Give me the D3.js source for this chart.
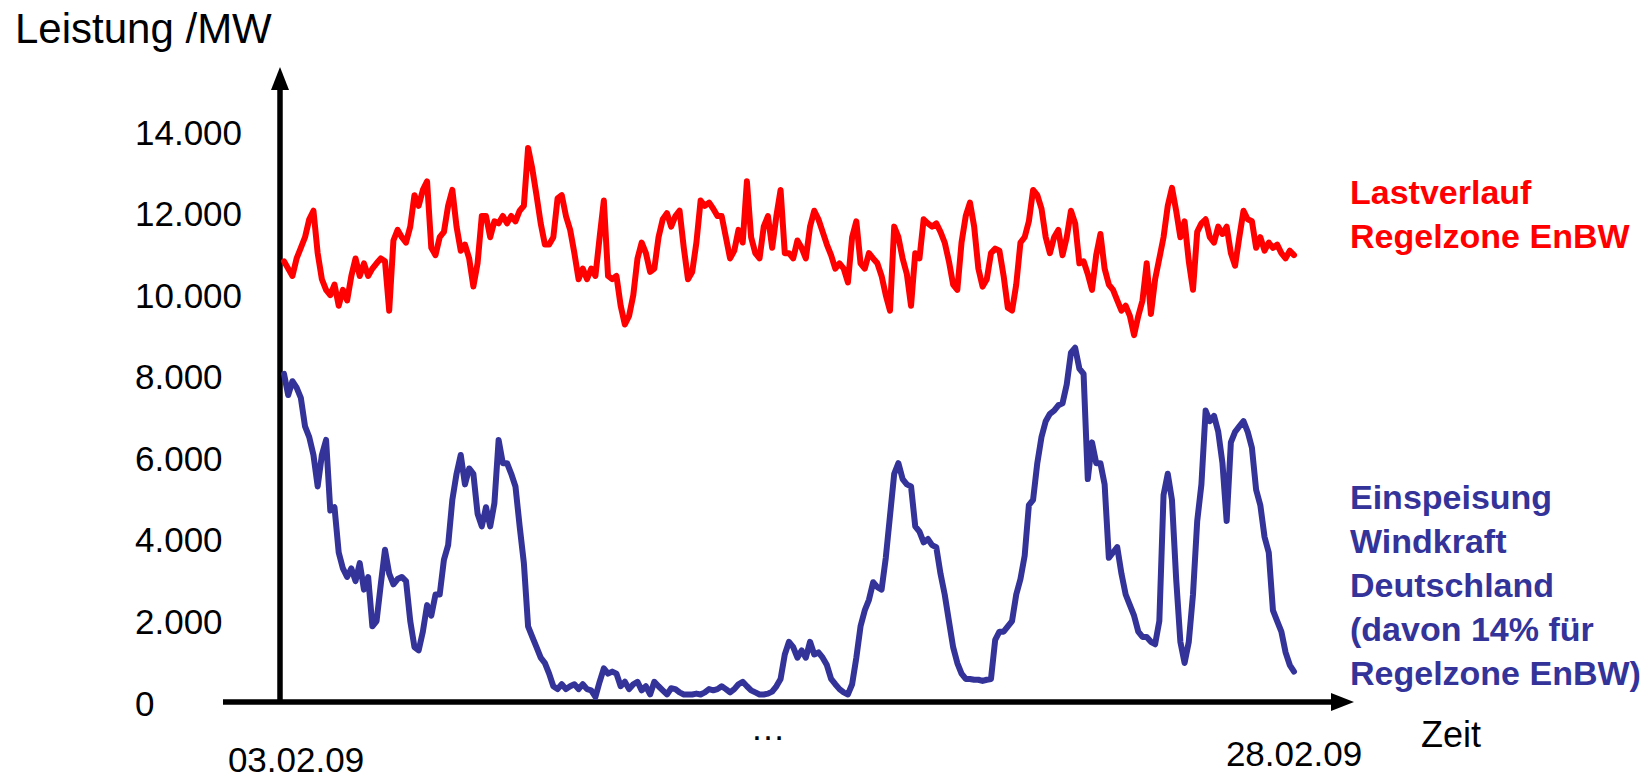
<!DOCTYPE html>
<html>
<head>
<meta charset="utf-8">
<script src="https://cdn.jsdelivr.net/npm/d3@7"></script>
<style>
  body { margin:0; background:#fff; }
  text { font-family: "Liberation Sans", Arial, sans-serif; }
</style>
</head>
<body>
<svg></svg>
<script>

// Lastverlauf Regelzone EnBW, MW (gleichmaessige Stichproben 03.02. - 28.02.09)
var lastverlauf = [
  10830,10650,10470,10900,11160,11420,11860,12070,11030,10390,
  10130,10000,10260,9740,10130,9870,10470,10900,10470,10780,
  10470,10650,10780,10900,10830,9620,11340,11600,11420,11290,
  11680,12450,12190,12580,12790,11160,10980,11420,11550,12190,
  12580,11680,11090,11240,10900,10210,10780,11940,11940,11420,
  11810,11760,11940,11760,11940,11810,12070,12190,13610,13100,
  12450,11760,11240,11240,11420,12370,12450,11940,11600,11030,
  10390,10650,10390,10650,10470,11420,12320,10470,10390,10470,
  9740,9280,9490,10000,10900,11290,11030,10570,10650,11420,
  11860,12010,11680,11940,12070,11160,10390,10570,11290,12320,
  12190,12270,12120,11940,11940,11420,10900,11090,11600,11290,
  12790,11420,11030,10900,11680,11940,11160,11940,12580,11030,
  11030,10900,11340,11160,10900,11680,12070,11860,11550,11240,
  10980,10650,10780,10650,10310,11420,11810,10780,10650,11030,
  10900,10780,10470,10000,9620,11680,11420,10900,10520,9740,
  11030,10900,11860,11760,11680,11760,11550,11290,10830,10260,
  10130,11290,11940,12270,11680,10650,10210,10390,11030,11140,
  11090,10470,9690,9620,10260,11290,11420,11810,12580,12450,
  12120,11420,11030,11420,11600,10980,11420,12070,11760,10780,
  10830,10520,10130,10980,11500,10650,10260,10130,9870,9620,
  9740,9490,9020,9490,9870,10780,9540,10390,10900,11420,
  12190,12630,12070,11420,11810,10830,10130,11550,11760,11860,
  11420,11290,11680,11500,11680,11030,10720,11420,12070,11860,
  11810,11160,11420,11090,11290,11160,11240,11030,10900,11090,
  10980
];

// Einspeisung Windkraft Deutschland, MW
var windkraft = [
  8070,7550,7890,7730,7480,6780,6520,6080,5310,6080,
  6450,4720,4800,3690,3300,3090,3300,2990,3430,2780,
  3090,1880,2010,2910,3760,3170,2910,3040,3090,2990,
  2010,1370,1290,1750,2400,2140,2660,2660,3510,3870,
  4980,5620,6080,5360,5750,5620,4640,4330,4800,4330,
  4900,6450,5880,5880,5620,5310,4330,3430,1880,1620,
  1370,1110,980,720,410,340,460,340,410,460,
  340,460,340,310,150,520,850,720,770,720,
  410,520,340,460,520,310,410,210,520,410,
  310,210,360,340,260,210,210,210,230,210,
  260,340,310,340,410,340,260,340,460,520,
  410,310,260,210,210,230,280,410,590,1190,
  1500,1370,1110,1290,1110,1500,1190,1240,1110,930,
  590,460,340,260,210,460,1110,1880,2270,2530,
  2960,2840,2780,3560,4590,5620,5880,5490,5360,5310,
  4330,4200,3940,4020,3870,3820,3170,2660,2010,1370,
  980,720,590,590,570,570,540,570,590,1550,
  1750,1750,1880,2010,2660,3040,3610,4850,4980,5880,
  6520,6910,7090,7170,7300,7350,7810,8590,8710,8200,
  8070,5490,6390,5880,5880,5360,3560,3690,3820,3170,
  2660,2400,2140,1750,1620,1620,1500,1440,2010,5100,
  5620,4980,3040,1500,980,1500,2660,4460,5360,7170,
  6910,7040,6650,5880,4460,6390,6650,6780,6910,6650,
  6260,5230,4850,4070,3690,2270,2010,1750,1240,930,
  770
];

var yTicks = [0,2000,4000,6000,8000,10000,12000,14000];
var yTickLabels = ["0","2.000","4.000","6.000","8.000","10.000","12.000","14.000"];

var dateTicks = [0,115,240];
var dateLabels = ["03.02.09","…","28.02.09"];

var lastLegend = ["Lastverlauf","Regelzone EnBW"];
var windLegend = ["Einspeisung","Windkraft","Deutschland","(davon 14% für","Regelzone EnBW)"];

var screen = {width:1648, height:778};

var svg = d3.select("svg")
            .attr("width",screen.width)
            .attr("height",screen.height);

var red = "#ff0000";
var blue = "#333399";

var xScale = d3.scaleLinear()
               .domain([0,lastverlauf.length-1])
               .range([284,1294]);
var yScale = d3.scaleLinear()
               .domain([0,14000])
               .range([703,132]);

//axes with arrow heads
var axisX = 280, axisY = 702;

svg.append("line")
   .attr("x1",axisX).attr("y1",axisY+2)
   .attr("x2",axisX).attr("y2",88)
   .attr("stroke","#000").attr("stroke-width",5.5);
svg.append("path")
   .attr("d","M"+axisX+",67L"+(axisX+9)+",90L"+(axisX-9)+",90Z")
   .attr("fill","#000");

svg.append("line")
   .attr("x1",223).attr("y1",axisY)
   .attr("x2",1334).attr("y2",axisY)
   .attr("stroke","#000").attr("stroke-width",5.5);
svg.append("path")
   .attr("d","M1354,"+axisY+"L1331,"+(axisY-9)+"L1331,"+(axisY+9)+"Z")
   .attr("fill","#000");

// y tick labels
svg.append("g").classed("yLabels",true)
   .selectAll("text")
   .data(yTicks)
   .enter()
   .append("text")
   .attr("x",135)
   .attr("y",function(d) {return yScale(d);})
   .attr("dy","0.36em")
   .attr("font-size",35)
   .text(function(d,i) {return yTickLabels[i];});

// date labels
svg.append("g").classed("xLabels",true)
   .selectAll("text")
   .data(dateTicks)
   .enter()
   .append("text")
   .attr("x",function(d,i) {return xScale(d) + (i==0 ? 12 : 0);})
   .attr("y",function(d,i) {return i==1 ? 740 : (i==0 ? 772 : 766);})
   .attr("text-anchor","middle")
   .attr("font-size",35)
   .text(function(d,i) {return dateLabels[i];});

svg.append("text")
   .attr("x",15).attr("y",43)
   .attr("font-size",42)
   .text("Leistung /MW");

svg.append("text")
   .attr("x",1421).attr("y",747)
   .attr("font-size",36)
   .text("Zeit");

// lines
var line = d3.line()
             .x(function(d,i) {return xScale(i);})
             .y(function(d) {return yScale(d);});

svg.append("path")
   .datum(lastverlauf)
   .attr("d",line)
   .attr("fill","none")
   .attr("stroke",red)
   .attr("stroke-width",6)
   .attr("stroke-linejoin","round")
   .attr("stroke-linecap","round");

svg.append("path")
   .datum(windkraft)
   .attr("d",line)
   .attr("fill","none")
   .attr("stroke",blue)
   .attr("stroke-width",6)
   .attr("stroke-linejoin","round")
   .attr("stroke-linecap","round");

// legend texts
svg.append("g").selectAll("text")
   .data(lastLegend)
   .enter()
   .append("text")
   .attr("x",1350)
   .attr("y",function(d,i) {return 192+i*44;})
   .attr("dy","0.36em")
   .attr("font-size",34)
   .attr("font-weight","bold")
   .attr("fill",red)
   .text(function(d) {return d;});

svg.append("g").selectAll("text")
   .data(windLegend)
   .enter()
   .append("text")
   .attr("x",1350)
   .attr("y",function(d,i) {return 497+i*44;})
   .attr("dy","0.36em")
   .attr("font-size",34)
   .attr("font-weight","bold")
   .attr("fill",blue)
   .text(function(d) {return d;});

</script>
</body>
</html>
